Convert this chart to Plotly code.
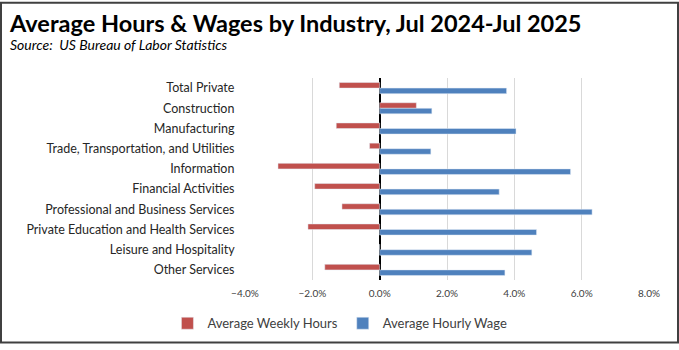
import plotly.graph_objects as go

categories = ["Total Private", "Construction", "Manufacturing",
              "Trade, Transportation, and Utilities", "Information",
              "Financial Activities", "Professional and Business Services",
              "Private Education and Health Services", "Leisure and Hospitality",
              "Other Services"]
weekly_hours = [-0.0120, 0.0109, -0.0129, -0.0030, -0.0302, -0.0193, -0.0112, -0.0213, 0.0, -0.0163]
hourly_wage = [0.0377, 0.0155, 0.0405, 0.0152, 0.0567, 0.0355, 0.0631, 0.0466, 0.0452, 0.0372]
tick_vals = [-0.04, -0.02, 0.0, 0.02, 0.04, 0.06, 0.08]

W, H = 679, 350
ml, mr, mt, mb = 245, 30, 78, 65
pw, ph = W - ml - mr, H - mt - mb

fig = go.Figure()
fig.add_trace(go.Bar(y=categories, x=weekly_hours, orientation="h",
                     name="Average Weekly Hours", marker_color="#C0504D"))
fig.add_trace(go.Bar(y=categories, x=hourly_wage, orientation="h",
                     name="Average Hourly Wage", marker_color="#4F81BD"))

fig.update_layout(
    width=W, height=H,
    margin=dict(l=ml, r=mr, t=mt, b=mb),
    paper_bgcolor="white", plot_bgcolor="white",
    barmode="group", bargap=0.45, bargroupgap=0.0,
    font=dict(family="Lato, Liberation Sans, sans-serif", color="#262626"),
    showlegend=True,
    legend=dict(orientation="h", x=0.235, xanchor="center", y=-0.14, yanchor="top",
                font=dict(size=13, color="#404040"), traceorder="normal",
                itemwidth=30),
    annotations=[
        dict(text="<b>Average Hours &amp; Wages by Industry, Jul 2024-Jul 2025</b>",
             xref="paper", yref="paper", x=-(ml - 7) / pw, y=1 + (mt - 5) / ph,
             xanchor="left", yanchor="top", showarrow=False,
             font=dict(size=23.5, color="#000000")),
        dict(text="<i>Source:  US Bureau of Labor Statistics</i>",
             xref="paper", yref="paper", x=-(ml - 8) / pw, y=1 + (mt - 33) / ph,
             xanchor="left", yanchor="top", showarrow=False,
             font=dict(size=14, color="#000000")),
    ],
    shapes=[dict(type="rect", xref="paper", yref="paper",
                 x0=-(ml - 1) / pw, x1=1 + (mr - 1) / pw,
                 y0=-(mb - 1) / ph, y1=1 + (mt - 1) / ph,
                 line=dict(color="#404040", width=2), layer="above")],
)
fig.update_xaxes(range=[-0.04, 0.08], tickvals=tick_vals, tickformat=".1%",
                 showgrid=True, gridcolor="#D9D9D9", gridwidth=1,
                 zeroline=True, zerolinecolor="#000000", zerolinewidth=1.5,
                 tickfont=dict(size=10, color="#404040"), ticks="",
                 ticklabelstandoff=6)
fig.update_yaxes(autorange="reversed", tickfont=dict(size=12.5, color="#262626"),
                 ticks="", ticksuffix="   ", showgrid=False)

fig.write_html("out.html")
